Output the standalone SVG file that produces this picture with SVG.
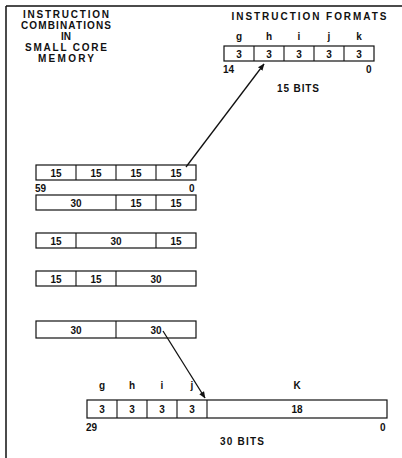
<svg xmlns="http://www.w3.org/2000/svg" width="402" height="458" viewBox="0 0 402 458">
<style>
text{font-family:"Liberation Sans",Arial,sans-serif;font-weight:bold;font-size:10px;fill:#111}
.c{text-anchor:middle}
.box{fill:#fff;stroke:#111;stroke-width:1.2}
.div{stroke:#111;stroke-width:1.1}
.con{stroke:#111;stroke-width:1.3;fill:none}
</style>
<defs>
<marker id="ah" viewBox="0 0 10 10" refX="9" refY="5" markerWidth="7" markerHeight="7" orient="auto" markerUnits="userSpaceOnUse">
<path d="M0,1 L10,5 L0,9 z" fill="#111"/>
</marker>
</defs>
<rect width="402" height="458" fill="#fff"/>
<g id="frame"><path d="M6,6 H402 M6,6 V458" stroke="#111" stroke-width="1.5" fill="none"/></g>

<g id="title-left">
<text class="c" x="66" y="18" textLength="86" lengthAdjust="spacing">INSTRUCTION</text>
<text class="c" x="66" y="29" textLength="90" lengthAdjust="spacing">COMBINATIONS</text>
<text class="c" x="66" y="40">IN</text>
<text class="c" x="66" y="51" textLength="82" lengthAdjust="spacing">SMALL CORE</text>
<text class="c" x="66" y="62" textLength="56" lengthAdjust="spacing">MEMORY</text>
</g>

<g id="title-right">
<text class="c" x="309" y="20" textLength="155" lengthAdjust="spacing">INSTRUCTION  FORMATS</text>
</g>

<g id="fmt15">
<rect class="box" x="224" y="46" width="150" height="15"/>
<path class="div" d="M254,46V61M284,46V61M314,46V61M344,46V61"/>
<text class="c" x="239" y="40">g</text><text class="c" x="269" y="40">h</text><text class="c" x="299" y="40">i</text><text class="c" x="329" y="40">j</text><text class="c" x="359" y="40">k</text>
<text class="c" x="239" y="57.5">3</text><text class="c" x="269" y="57.5">3</text><text class="c" x="299" y="57.5">3</text><text class="c" x="329" y="57.5">3</text><text class="c" x="359" y="57.5">3</text>
<text x="223" y="73">14</text>
<text x="366" y="73">0</text>
<text class="c" x="298" y="92" textLength="42" lengthAdjust="spacing">15 BITS</text>
</g>

<g id="row1">
<rect class="box" x="36" y="165" width="160" height="15"/>
<path class="div" d="M76,165V180M116,165V180M156,165V180"/>
<text class="c" x="56" y="176.5">15</text><text class="c" x="96" y="176.5">15</text><text class="c" x="136" y="176.5">15</text><text class="c" x="176" y="176.5">15</text>
<text x="35" y="192">59</text>
<text x="189" y="192">0</text>
</g>
<g id="row2">
<rect class="box" x="36" y="195" width="160" height="15"/>
<path class="div" d="M116,195V210M156,195V210"/>
<text class="c" x="76" y="206.5">30</text><text class="c" x="136" y="206.5">15</text><text class="c" x="176" y="206.5">15</text>
</g>
<g id="row3">
<rect class="box" x="36" y="233" width="160" height="15"/>
<path class="div" d="M76,233V248M156,233V248"/>
<text class="c" x="56" y="244.5">15</text><text class="c" x="116" y="244.5">30</text><text class="c" x="176" y="244.5">15</text>
</g>
<g id="row4">
<rect class="box" x="36" y="271" width="160" height="15"/>
<path class="div" d="M76,271V286M116,271V286"/>
<text class="c" x="56" y="282.5">15</text><text class="c" x="96" y="282.5">15</text><text class="c" x="156" y="282.5">30</text>
</g>
<g id="row5">
<rect class="box" x="36" y="321" width="160" height="17"/>
<path class="div" d="M116,321V338"/>
<text class="c" x="76" y="333.5">30</text><text class="c" x="156" y="333.5">30</text>
</g>

<g id="fmt30">
<rect class="box" x="87" y="400" width="300" height="18"/>
<path class="div" d="M117,400V418M147,400V418M177,400V418M207,400V418"/>
<text class="c" x="102" y="389">g</text><text class="c" x="132" y="389">h</text><text class="c" x="162" y="389">i</text><text class="c" x="192" y="389">j</text><text class="c" x="297" y="389">K</text>
<text class="c" x="102" y="412.5">3</text><text class="c" x="132" y="412.5">3</text><text class="c" x="162" y="412.5">3</text><text class="c" x="192" y="412.5">3</text><text class="c" x="297" y="412.5">18</text>
<text x="86" y="431">29</text>
<text x="380" y="431">0</text>
<text class="c" x="242" y="445" textLength="44" lengthAdjust="spacing">30 BITS</text>
</g>

<g id="connectors">
<path class="con" d="M186,167 L264,64" marker-end="url(#ah)"/>
<path class="con" d="M163,331 L205,398" marker-end="url(#ah)"/>
</g>
</svg>
